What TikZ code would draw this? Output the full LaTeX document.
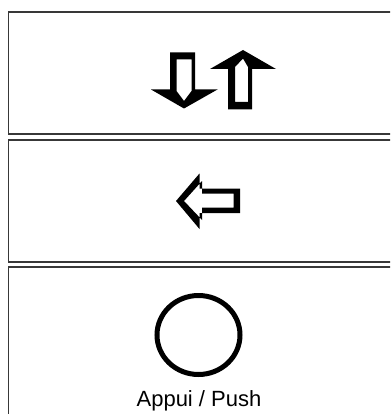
\documentclass[tikz,border=0pt]{standalone}
\usepackage{fontspec}
\setmainfont{Liberation Sans}
\begin{document}
\begin{tikzpicture}[x=1pt,y=-1pt,
  panel/.style={draw=black!78,line width=1.3pt},
  glyph/.style={fill=black,even odd rule},
  ring/.style={draw=black,line width=5pt}]
\useasboundingbox (0,0) rectangle (390,414);
\clip (0,0) rectangle (390,414);
% panels
\draw[panel] (8.5,12) rectangle (400,134);
\draw[panel] (8.5,140) rectangle (400,262);
\draw[panel] (8.5,267) rectangle (400,430);
% down arrow
\fill[glyph] (170,52.5) -- (195,52.5) -- (195,89.5) -- (217.5,89.5) -- (184,108.5) -- (151,89.5) -- (170,89.5) -- cycle
  (176.5,59.5) -- (191.5,59.5) -- (191.5,91) -- (184,101) -- (176.5,91) -- cycle;
% up arrow
\fill[glyph] (228,109.5) -- (252,109.5) -- (252,69) -- (276,69) -- (243,50) -- (210,69) -- (228,69) -- cycle
  (235,102) -- (248,102) -- (248,67) -- (243,58.5) -- (235,67) -- cycle;
% left arrow
\fill[glyph] (176,201) -- (199.5,173.5) -- (199.5,188.5) -- (240,188.5) -- (240,213) -- (199.5,213) -- (199.5,229) -- cycle
  (184,201) -- (202,181) -- (202,193.5) -- (233.5,193.5) -- (233.5,207.5) -- (202,207.5) -- (202,220) -- cycle;
% push circle
\draw[ring] (198.5,335) ellipse [x radius=41.5,y radius=39.5];
\node[anchor=base,font=\fontsize{22}{26}\selectfont,inner sep=0pt] (lbl) at (199,406.5) {Appui / Push};
\end{tikzpicture}
\end{document}
